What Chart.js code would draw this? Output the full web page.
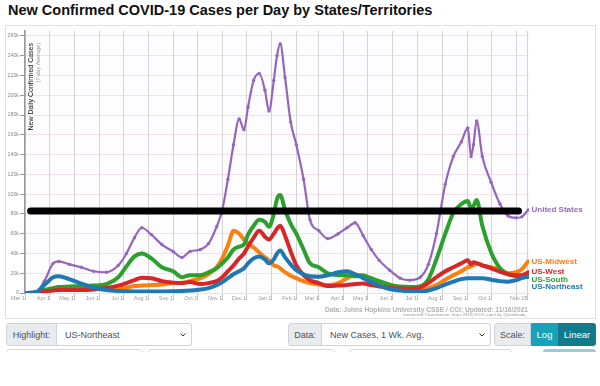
<!DOCTYPE html>
<html>
<head>
<meta charset="utf-8">
<script src="https://cdn.jsdelivr.net/npm/chart.js@4.4.0/dist/chart.umd.min.js"></script>
<style>
  html, body { margin: 0; padding: 0; background: #fff; width: 600px; height: 386px; overflow: hidden;
    font-family: 'Liberation Sans', Arial, sans-serif; }
  #title { position: absolute; left: 8px; top: 1px; line-height: 18px; font-size: 14.5px; font-weight: bold;
    color: #111; white-space: nowrap; }
  #box { position: absolute; left: 5px; top: 25px; width: 589px; height: 292px; border: 1px solid #e2e2e2; background: #fff; }
  #chart { position: absolute; left: 0; top: 25px; }
  .grp { position: absolute; top: 323px; height: 23px; display: flex; font-size: 9px; color: #495057; }
  .lbl { background: #e9ecef; border: 1px solid #ced4da; border-radius: 3px 0 0 3px; display: flex;
    align-items: center; justify-content: center; box-sizing: border-box; }
  .sel { background: #fff; border: 1px solid #ced4da; border-left: none; border-radius: 0 3px 3px 0; display: flex;
    align-items: center; padding-left: 8px; box-sizing: border-box; position: relative; }
  .sel svg { position: absolute; right: 5px; top: 9px; }
  .btn { display: flex; align-items: center; justify-content: center; color: #fff; box-sizing: border-box; font-size: 9.5px; }
  #row2 { position: absolute; left: 0; top: 349px; width: 600px; height: 3px; overflow: hidden; }
  #row2 div { position: absolute; top: 0; height: 20px; border: 1px solid #d6dadf; border-radius: 3px; box-sizing: border-box; }
</style>
</head>
<body>
<div id="title">New Confirmed COVID-19 Cases per Day by States/Territories</div>
<div id="box"></div>
<canvas id="chart" width="600" height="292"></canvas>

<div class="grp" style="left:6px;width:186px">
  <div class="lbl" style="width:51px">Highlight:</div>
  <div class="sel" style="width:135px">US-Northeast<svg width="6" height="4" viewBox="0 0 6 4"><polyline points="0.5,0.5 3,3 5.5,0.5" fill="none" stroke="#333" stroke-width="1"/></svg></div>
</div>
<div class="grp" style="left:288px;width:203px">
  <div class="lbl" style="width:34px">Data:</div>
  <div class="sel" style="width:169px">New Cases, 1 Wk. Avg.<svg width="6" height="4" viewBox="0 0 6 4"><polyline points="0.5,0.5 3,3 5.5,0.5" fill="none" stroke="#333" stroke-width="1"/></svg></div>
</div>
<div class="grp" style="left:494px;width:102px">
  <div class="lbl" style="width:37px">Scale:</div>
  <div class="btn" style="width:27px;background:#17a2b8">Log</div>
  <div class="btn" style="width:38px;background:#117a8b;border-radius:0 3px 3px 0">Linear</div>
</div>
<div id="row2">
  <div style="left:6px;width:137px"></div>
  <div style="left:148px;width:187px"></div>
  <div style="left:349px;width:163px"></div>
  <div style="left:543px;width:53px;background:#8fd0db;border-color:#8fd0db"></div>
</div>

<script>
// sample dates (7-day averages), values in thousands of cases
const seriesDates = ['2020-03-01','2020-03-15','2020-03-25','2020-04-05','2020-04-12','2020-04-25','2020-05-10','2020-05-25','2020-06-10','2020-06-25',
  '2020-07-05','2020-07-15','2020-07-24','2020-08-05','2020-08-18','2020-09-01','2020-09-12','2020-09-22','2020-10-05','2020-10-15',
  '2020-10-25','2020-11-01','2020-11-08','2020-11-15','2020-11-22','2020-11-28','2020-12-03','2020-12-10','2020-12-17','2020-12-24',
  '2020-12-29','2021-01-04','2021-01-08','2021-01-12','2021-01-18','2021-01-25','2021-02-01','2021-02-10','2021-02-18','2021-03-01',
  '2021-03-12','2021-03-25','2021-04-05','2021-04-15','2021-04-25','2021-05-05','2021-05-15','2021-05-28','2021-06-10','2021-06-22',
  '2021-07-05','2021-07-15','2021-07-25','2021-08-05','2021-08-15','2021-08-25','2021-09-02','2021-09-06','2021-09-09','2021-09-13',
  '2021-09-20','2021-10-01','2021-10-12','2021-10-22','2021-11-01','2021-11-08','2021-11-16'];

const unitedStates = [0, 1, 12, 30, 32, 29, 26, 22, 21, 28,
  40, 56, 66, 59, 49, 42, 36, 42, 44, 50,
  67, 84, 115, 150, 176, 165, 188, 215, 222, 205,
  184, 215, 240, 252, 218, 173, 150, 115, 74, 63,
  55, 60, 66, 71, 58, 44, 33, 23, 15, 13,
  16, 29, 60, 110, 138, 153, 167, 138, 150, 174,
  138, 112, 90, 78, 76, 77, 84];

const usMidwest = [0, 0.2, 2, 4, 5, 5, 5, 5, 4, 4.5,
  5.5, 7, 7.5, 8, 8.5, 10, 10.5, 12, 15, 19,
  26, 35, 48, 63, 60, 54, 50, 46, 41, 36,
  33, 28, 27, 25, 21, 17.5, 15, 12, 10, 8.5,
  8, 10, 15, 18.5, 18, 14.5, 11, 7, 5, 3,
  3, 5, 8, 13.5, 18, 22, 26, 27, 28, 30,
  28, 26, 24, 20, 21, 24, 32];

const usWest = [0, 0.3, 1.5, 2.5, 3, 3, 3, 3.5, 5, 7.5,
  10, 13, 15.5, 15, 12, 10.5, 10, 11, 9, 10,
  12, 16, 22, 28, 35, 40, 47, 56, 63, 57,
  54, 60, 65, 68, 58, 42, 28, 18, 13, 10,
  7, 7.5, 8, 9, 9.5, 8, 6.5, 5.5, 4.5, 4,
  5.5, 10, 16, 22, 26, 30, 33, 29, 31, 30,
  28, 25, 21.5, 19, 18, 18, 21];

const usSouth = [0, 0.3, 3, 5, 6, 6.5, 7, 7.5, 9, 16,
  27, 37, 40, 35, 26, 22, 16, 18, 18, 21,
  25, 30, 36, 44, 47, 49, 59, 68, 74, 72,
  67, 80, 95, 99, 84, 70, 60, 44, 30, 26,
  20, 18, 18, 17, 17.5, 15, 12, 8.5, 6.5, 6,
  7, 14, 34, 60, 81, 90, 93, 86, 88, 94,
  68, 41, 25, 19, 17, 16, 18.5];

const usNortheast = [0, 1, 8, 16, 17, 14, 9.5, 5.5, 3, 2,
  1.8, 1.6, 1.6, 1.5, 1.6, 1.8, 2, 2.5, 3.5, 5,
  8, 11, 15, 19, 22, 25, 30, 35, 37, 34,
  30, 34, 40, 43, 36, 29, 23, 19, 17, 16.5,
  18, 21, 22, 19, 15, 11, 7.5, 4, 2.5, 1.5,
  1.3, 2.5, 5, 8.5, 11.5, 14, 15, 15, 15, 15,
  15, 13.5, 12, 11.5, 13, 15, 16.5];

// the thick black bar across the chart
const markerLevel = 83;
const markerDates = ['2020-03-08', '2021-11-04'];

// axis ticks
const xTickDates = ['2020-03-01','2020-04-01','2020-05-01','2020-06-01','2020-07-01','2020-08-01','2020-09-01','2020-10-01',
  '2020-11-01','2020-12-01','2021-01-01','2021-02-01','2021-03-01','2021-04-01','2021-05-01','2021-06-01','2021-07-01',
  '2021-08-01','2021-09-01','2021-10-01','2021-11-01','2021-11-15'];
const xTickLabels = ['Mar 1','Apr 1','May 1','Jun 1','Jul 1','Aug 1','Sep 1','Oct 1','Nov 1','Dec 1','Jan 1','Feb 1',
  'Mar 1','Apr 1','May 1','Jun 1','Jul 1','Aug 1','Sep 1','Oct 1','','Nov 15'];
const yTickValues = [0, 20, 40, 60, 80, 100, 120, 140, 160, 180, 200, 220, 240, 260];

const FONT = "'Liberation Sans', Arial, sans-serif";
const dayOf = s => (Date.UTC(+s.slice(0, 4), +s.slice(5, 7) - 1, +s.slice(8, 10)) - Date.UTC(2020, 2, 1)) / 864e5;
const seriesDays = seriesDates.map(dayOf);
const xTickDays = xTickDates.map(dayOf);
const pts = vals => vals.map((v, i) => ({ x: seriesDays[i], y: v }));

function regionLine(label, vals, color) {
    return {
        label: label,
        data: pts(vals),
        borderColor: color,
        backgroundColor: color,
        borderWidth: 4,
        pointRadius: 0,
        cubicInterpolationMode: 'monotone',
        borderJoinStyle: 'round',
        borderCapStyle: 'round',
        endLabel: true
    };
}

const plotBackground = {
    id: 'plotBackground',
    beforeDraw(chart) {
        const { ctx, chartArea: a } = chart;
        ctx.save();
        ctx.fillStyle = '#fdfcfe';
        ctx.fillRect(a.left, a.top, a.right - a.left, a.bottom - a.top);
        ctx.restore();
    }
};

const extras = {
    id: 'extras',
    afterDatasetsDraw(chart) {
        const { ctx, chartArea: a, scales: { y } } = chart;
        ctx.save();

        // y axis title inside the plot
        ctx.translate(31.5, 18);
        ctx.rotate(-Math.PI / 2);
        ctx.textAlign = 'right';
        ctx.textBaseline = 'middle';
        ctx.fillStyle = '#111';
        ctx.font = '7px ' + FONT;
        ctx.fillText('New Daily Confirmed Cases', 0, 0);
        ctx.fillStyle = '#999';
        ctx.font = '5.5px ' + FONT;
        ctx.fillText('(7-day Average)', 0, 7);
        ctx.setTransform(1, 0, 0, 1, 0, 0);

        // series names at the line ends
        const items = chart.data.datasets.filter(d => d.endLabel).map(d => ({
            text: d.label, color: d.borderColor, y: y.getPixelForValue(d.data[d.data.length - 1].y)
        }));
        items.sort((p, q) => p.y - q.y);
        for (let i = 1; i < items.length; i++) items[i].y = Math.max(items[i].y, items[i - 1].y + 7.3);
        ctx.font = 'bold 8px ' + FONT;
        ctx.textAlign = 'left';
        ctx.textBaseline = 'middle';
        items.forEach(it => {
            ctx.fillStyle = it.color;
            ctx.fillText(it.text, a.right + 2.5, it.y);
        });

        // source notes
        ctx.textAlign = 'right';
        ctx.textBaseline = 'alphabetic';
        ctx.fillStyle = '#b0b0b0';
        ctx.font = 'bold 6.6px ' + FONT;
        ctx.fillText('Data: Johns Hopkins University CSSE / CCI; Updated: 11/16/2021', 528, 286.5);
        ctx.fillStyle = '#999';
        ctx.font = '4.4px ' + FONT;
        ctx.fillText('Interactive Visualization: https://91-DIVOC.com/ by @profwade_', 528, 291);
        ctx.restore();
    }
};

new Chart(document.getElementById('chart'), {
    type: 'line',
    data: {
        datasets: [
            {
                label: 'marker',
                data: markerDates.map(d => ({ x: dayOf(d), y: markerLevel })),
                borderColor: '#000',
                borderWidth: 7,
                borderCapStyle: 'round',
                pointRadius: 0
            },
            regionLine('US-Northeast', usNortheast, '#1f77b4'),
            regionLine('US-West', usWest, '#d62728'),
            regionLine('US-South', usSouth, '#2ca02c'),
            regionLine('US-Midwest', usMidwest, '#ff7f0e'),
            {
                label: 'United States',
                data: pts(unitedStates),
                borderColor: '#9467bd',
                backgroundColor: '#9467bd',
                borderWidth: 2.2,
                pointRadius: 1.7,
                pointBorderWidth: 0,
                cubicInterpolationMode: 'monotone',
                borderJoinStyle: 'round',
                endLabel: true
            }
        ]
    },
    options: {
        responsive: false,
        animation: false,
        devicePixelRatio: 1,
        layout: { padding: { top: 6, right: 71, left: 0, bottom: 0 } },
        plugins: { legend: { display: false }, tooltip: { enabled: false } },
        scales: {
            x: {
                type: 'linear',
                min: 0,
                max: 626,
                afterBuildTicks: s => { s.ticks = xTickDays.map(v => ({ value: v })); },
                afterFit: s => { s.height = 24; },
                grid: { color: '#d4d4d4', tickColor: '#c4c4c4', tickLength: 7 },
                border: { color: '#e4e4e4' },
                ticks: {
                    autoSkip: false,
                    maxRotation: 0,
                    align: 'end',
                    padding: -5,
                    color: '#9a9a9a',
                    font: { family: FONT, size: 5.5 },
                    callback: (v, i) => xTickLabels[i]
                }
            },
            y: {
                min: 0,
                max: 265,
                afterBuildTicks: s => { s.ticks = yTickValues.map(v => ({ value: v })); },
                afterFit: s => { s.width = 25; },
                grid: { color: 'rgba(230, 200, 218, 0.5)', tickColor: '#999', tickLength: 5 },
                border: { color: '#999', width: 1.5 },
                ticks: {
                    padding: 1,
                    color: '#888',
                    font: { family: FONT, size: 5.3 },
                    callback: v => (v === 0 ? '0' : v + 'k')
                }
            }
        }
    },
    plugins: [plotBackground, extras]
});
</script>
</body>
</html>
